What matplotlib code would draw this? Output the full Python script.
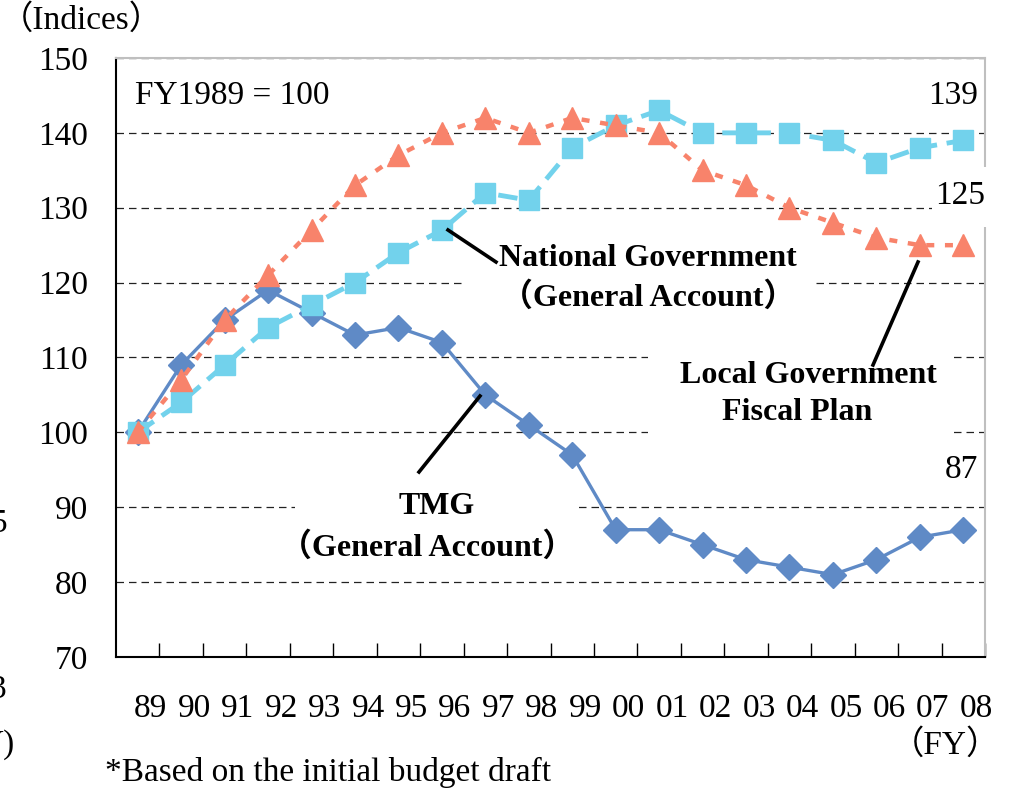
import matplotlib
matplotlib.use("Agg")
import matplotlib.pyplot as plt
from matplotlib.patches import Rectangle

years = ["89", "90", "91", "92", "93", "94", "95", "96", "97", "98",
         "99", "00", "01", "02", "03", "04", "05", "06", "07", "08"]
tmg = [100, 109, 115, 119, 116, 113, 114, 112, 105, 101,
       97, 87, 87, 85, 83, 82, 81, 83, 86, 87]
national = [100, 104, 109, 114, 117, 120, 124, 127, 132, 131,
            138, 141, 143, 140, 140, 140, 139, 136, 138, 139]
local = [100, 107, 115, 121, 127, 133, 137, 140, 142, 140,
         142, 141, 140, 135, 133, 130, 128, 126, 125, 125]
yticks = [70, 80, 90, 100, 110, 120, 130, 140, 150]

W, H = 1014, 791
plt.rcParams['font.family'] = ['Liberation Serif', 'Noto Sans CJK JP']
plt.rcParams['font.size'] = 24

fig = plt.figure(figsize=(W / 100, H / 100), dpi=100)
ax = fig.add_axes([116 / W, 1 - 657 / H, (985 - 116) / W, (657 - 58) / H])

def px(x, y):
    return (x / W, 1 - y / H)

x = list(range(len(years)))
ax.plot(x, tmg, color='#5F8AC6', lw=2.4, marker='D', ms=13, zorder=2)
ax.plot(x, national, color='#72D2EC', lw=3.5, ls=(0, (4, 2)), marker='s', ms=14.5, zorder=2.1)
ax.plot(x, local, color='#F8836B', lw=3.2, ls=(0, (1.8, 2.4)), marker='^', ms=16.5, zorder=2.2)

ax.set_xlim(-0.5, len(years) - 0.5)
ax.set_ylim(70, 150)
ax.set_yticks(yticks)
ax.tick_params(axis='y', length=0, pad=20)
ax.set_xticks([i + 0.3 for i in x])
ax.set_xticklabels(years)
ax.set_xticks([i + 0.5 for i in x], minor=True)
ax.tick_params(axis='x', which='major', length=0, pad=26)
ax.tick_params(axis='x', which='minor', direction='in', length=10, width=1, color='black')

ax.set_axisbelow(True)
ax.yaxis.grid(True, ls=(0, (6, 4)), color='#222222', lw=0.9)
for s in ['top', 'right']:
    ax.spines[s].set_color('#BFBFBF')
    ax.spines[s].set_linewidth(1.5)
for s in ['left', 'bottom']:
    ax.spines[s].set_color('black')
    ax.spines[s].set_linewidth(1.5)

# white label boxes
tf = fig.transFigure
def box(x0, y0, x1, y1, z=1):
    ax.add_patch(Rectangle(px(x0, y1), (x1 - x0) / W, (y1 - y0) / H, transform=tf,
                           facecolor='white', edgecolor='none', zorder=z, clip_on=False))

box(462, 238, 812, 316)
box(295, 478, 575, 565)
box(648, 342, 950, 440)
box(932, 167, 995, 227, z=2.6)

# leader lines
for (x0, y0), (x1, y1) in [((448, 230), (496, 262)), ((480, 396), (419, 472)), ((918, 262), (873, 365))]:
    ax.plot([x0 / W, x1 / W], [1 - y0 / H, 1 - y1 / H], transform=tf, color='black',
            lw=2.6, zorder=4, clip_on=False)

def t(xp, yp, s, **kw):
    ax.text(*px(xp, yp), s, transform=tf, zorder=5, clip_on=False, **kw)

t(648, 258, "National Government", ha='center', va='center', weight='bold', fontsize=23)
t(648, 297, "（General Account）", ha='center', va='center', weight='bold', fontsize=23)
t(437, 507, "TMG", ha='center', va='center', weight='bold', fontsize=23)
t(427, 547, "（General Account）", ha='center', va='center', weight='bold', fontsize=23)
t(808, 375, "Local Government", ha='center', va='center', weight='bold', fontsize=23)
t(797, 412, "Fiscal Plan", ha='center', va='center', weight='bold', fontsize=23)

t(135, 96, "FY1989 = 100", ha='left', va='center')
t(978, 96, "139", ha='right', va='center')
t(985, 196, "125", ha='right', va='center')
t(978, 470, "87", ha='right', va='center')

t(0, 20, "（Indices）", ha='left', va='center')
t(1000, 745, "（FY）", ha='right', va='center')
t(105, 772, "*Based on the initial budget draft", ha='left', va='center')

# cut-off remnants at left edge
t(8, 524, "5", ha='right', va='center')
t(6, 690, "3", ha='right', va='center')
t(15, 745, "Y)", ha='right', va='center')

fig.savefig("out.png", dpi=100)
